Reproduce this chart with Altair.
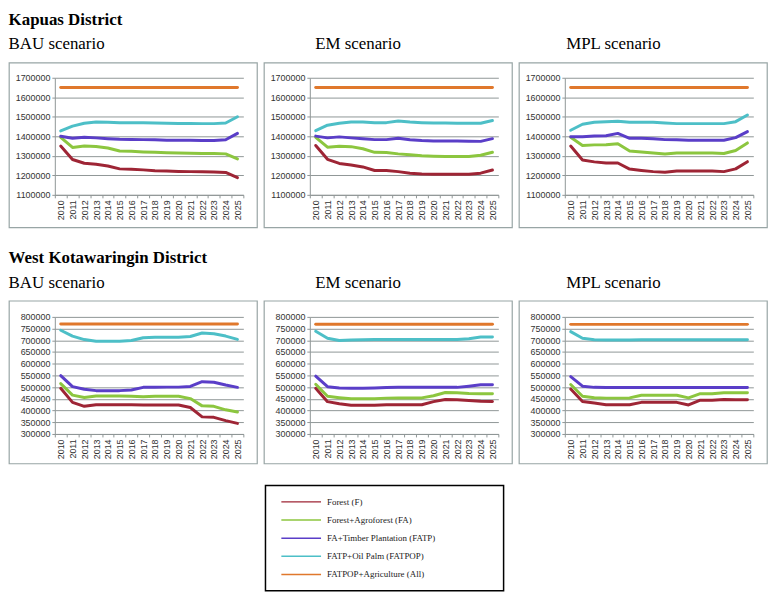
import altair as alt
import pandas as pd

years = list(range(2010, 2026))
series = ["Forest (F)", "Forest+Agroforest (FA)", "FA+Timber Plantation (FATP)",
          "FATP+Oil Palm (FATPOP)", "FATPOP+Agriculture (All)"]
colors = ["#9E2535", "#8CC63F", "#5A3EC8", "#4DBFC7", "#E0782C"]
scenarios = ["BAU scenario", "EM scenario", "MPL scenario"]
districts = ["Kapuas District", "West Kotawaringin District"]

# Kapuas District
kap_bau_f = [1350000, 1281000, 1262000, 1257000, 1248000, 1233000, 1231000, 1228000, 1224000, 1222000, 1220000, 1219000, 1218000, 1217000, 1215000, 1188000]
kap_bau_fa = [1395000, 1343000, 1350000, 1348000, 1340000, 1325000, 1323000, 1320000, 1318000, 1316000, 1315000, 1313000, 1312000, 1312000, 1310000, 1284000]
kap_bau_fatp = [1400000, 1390000, 1395000, 1392000, 1388000, 1385000, 1384000, 1383000, 1382000, 1380000, 1380000, 1380000, 1379000, 1379000, 1382000, 1415000]
kap_bau_fatpop = [1428000, 1452000, 1467000, 1473000, 1472000, 1470000, 1470000, 1469000, 1468000, 1467000, 1466000, 1466000, 1465000, 1465000, 1468000, 1500000]
kap_bau_all = [1650000, 1650000, 1650000, 1650000, 1650000, 1650000, 1650000, 1650000, 1650000, 1650000, 1650000, 1650000, 1650000, 1650000, 1650000, 1650000]

kap_em_f = [1353000, 1282000, 1261000, 1253000, 1243000, 1225000, 1225000, 1219000, 1211000, 1207000, 1206000, 1205000, 1205000, 1205000, 1211000, 1227000]
kap_em_fa = [1395000, 1344000, 1349000, 1347000, 1336000, 1318000, 1317000, 1310000, 1305000, 1300000, 1298000, 1297000, 1297000, 1297000, 1303000, 1318000]
kap_em_fatp = [1401000, 1392000, 1397000, 1392000, 1388000, 1383000, 1383000, 1390000, 1382000, 1378000, 1376000, 1376000, 1376000, 1375000, 1374000, 1388000]
kap_em_fatpop = [1429000, 1457000, 1467000, 1473000, 1473000, 1470000, 1470000, 1478000, 1473000, 1470000, 1468000, 1468000, 1467000, 1467000, 1467000, 1481000]
kap_em_all = [1650000, 1650000, 1650000, 1650000, 1650000, 1650000, 1650000, 1650000, 1650000, 1650000, 1650000, 1650000, 1650000, 1650000, 1650000, 1650000]

kap_mpl_f = [1350000, 1279000, 1269000, 1263000, 1263000, 1232000, 1225000, 1219000, 1216000, 1222000, 1222000, 1222000, 1222000, 1219000, 1233000, 1270000]
kap_mpl_fa = [1395000, 1353000, 1356000, 1357000, 1362000, 1325000, 1320000, 1314000, 1309000, 1314000, 1314000, 1314000, 1314000, 1312000, 1327000, 1366000]
kap_mpl_fatp = [1398000, 1398000, 1401000, 1403000, 1415000, 1390000, 1390000, 1388000, 1383000, 1382000, 1380000, 1380000, 1380000, 1380000, 1393000, 1424000]
kap_mpl_fatpop = [1431000, 1462000, 1472000, 1475000, 1477000, 1472000, 1472000, 1472000, 1468000, 1465000, 1465000, 1465000, 1465000, 1465000, 1475000, 1509000]
kap_mpl_all = [1650000, 1650000, 1650000, 1650000, 1650000, 1650000, 1650000, 1650000, 1650000, 1650000, 1650000, 1650000, 1650000, 1650000, 1650000, 1650000]

# West Kotawaringin District
wk_bau_f = [495000, 435000, 418000, 425000, 425000, 425000, 425000, 424000, 424000, 424000, 424000, 413000, 373000, 371000, 357000, 345000]
wk_bau_fa = [515000, 466000, 456000, 462000, 462000, 462000, 461000, 459000, 461000, 461000, 461000, 451000, 420000, 418000, 403000, 394000]
wk_bau_fatp = [549000, 502000, 491000, 485000, 485000, 485000, 488000, 499000, 499000, 500000, 500000, 503000, 523000, 521000, 509000, 499000]
wk_bau_fatpop = [743000, 718000, 703000, 696000, 696000, 696000, 699000, 711000, 713000, 713000, 713000, 716000, 731000, 728000, 718000, 704000]
wk_bau_all = [770000, 770000, 770000, 770000, 770000, 770000, 770000, 770000, 770000, 770000, 770000, 770000, 770000, 770000, 770000, 770000]

wk_em_f = [495000, 438000, 429000, 423000, 423000, 423000, 425000, 425000, 425000, 425000, 438000, 447000, 446000, 443000, 440000, 439000]
wk_em_fa = [512000, 461000, 455000, 450000, 450000, 450000, 453000, 454000, 454000, 454000, 463000, 477000, 476000, 473000, 472000, 472000]
wk_em_fatp = [547000, 502000, 496000, 495000, 495000, 496000, 498000, 499000, 499000, 499000, 499000, 499000, 499000, 504000, 510000, 510000]
wk_em_fatpop = [739000, 709000, 699000, 701000, 702000, 703000, 703000, 703000, 703000, 703000, 703000, 703000, 703000, 707000, 714000, 714000]
wk_em_all = [769000, 769000, 769000, 769000, 769000, 769000, 769000, 769000, 769000, 769000, 769000, 769000, 769000, 769000, 769000, 769000]

wk_mpl_f = [492000, 439000, 432000, 425000, 425000, 425000, 435000, 435000, 435000, 435000, 424000, 444000, 444000, 447000, 446000, 446000]
wk_mpl_fa = [511000, 461000, 455000, 453000, 453000, 454000, 465000, 465000, 465000, 465000, 454000, 472000, 472000, 476000, 476000, 476000]
wk_mpl_fatp = [545000, 504000, 499000, 498000, 498000, 498000, 498000, 498000, 498000, 498000, 498000, 498000, 498000, 498000, 498000, 498000]
wk_mpl_fatpop = [737000, 709000, 702000, 701000, 701000, 701000, 702000, 702000, 702000, 702000, 702000, 702000, 702000, 702000, 702000, 702000]
wk_mpl_all = [768000, 768000, 768000, 768000, 768000, 768000, 768000, 768000, 768000, 768000, 768000, 768000, 768000, 768000, 768000, 768000]

kap_ticks = [1100000, 1200000, 1300000, 1400000, 1500000, 1600000, 1700000]
wk_ticks = [300000, 350000, 400000, 450000, 500000, 550000, 600000, 650000, 700000, 750000, 800000]

table = {
    ("Kapuas District", "BAU scenario"): [kap_bau_f, kap_bau_fa, kap_bau_fatp, kap_bau_fatpop, kap_bau_all],
    ("Kapuas District", "EM scenario"): [kap_em_f, kap_em_fa, kap_em_fatp, kap_em_fatpop, kap_em_all],
    ("Kapuas District", "MPL scenario"): [kap_mpl_f, kap_mpl_fa, kap_mpl_fatp, kap_mpl_fatpop, kap_mpl_all],
    ("West Kotawaringin District", "BAU scenario"): [wk_bau_f, wk_bau_fa, wk_bau_fatp, wk_bau_fatpop, wk_bau_all],
    ("West Kotawaringin District", "EM scenario"): [wk_em_f, wk_em_fa, wk_em_fatp, wk_em_fatpop, wk_em_all],
    ("West Kotawaringin District", "MPL scenario"): [wk_mpl_f, wk_mpl_fa, wk_mpl_fatp, wk_mpl_fatpop, wk_mpl_all],
}

rows = []
for (d, s), lists in table.items():
    for si, vals in enumerate(lists):
        for y, v in zip(years, vals):
            rows.append({"district": d, "scenario": s, "series": series[si], "order": si, "year": y, "value": v})
df = pd.DataFrame(rows)

GRID = "#8f9696"
FRAME = "#98a5a5"
SANS = "Liberation Sans"
SERIF = "Liberation Serif"
FRAME_W = 250
GAP = 5
LEFT = 46
RIGHT = 14
PLOT_H = 118

color_scale = alt.Scale(domain=series, range=colors)
dummy = pd.DataFrame({"k": [0]})


def panel(district, scenario, ticks, H, top, bottom, title_dx):
    W = FRAME_W - LEFT - RIGHT
    data = df[(df.district == district) & (df.scenario == scenario)]
    frame = alt.Chart(dummy).mark_rect(filled=False, stroke=FRAME, strokeWidth=1.2).encode(
        x=alt.value(-LEFT), x2=alt.value(W + RIGHT), y=alt.value(-top), y2=alt.value(H + bottom)
    )
    lines = alt.Chart(data).mark_line(strokeWidth=3, strokeCap="round", strokeJoin="round").encode(
        x=alt.X("year:O", bandPosition=0.5,
                scale=alt.Scale(type="band", paddingInner=0, paddingOuter=0),
                axis=alt.Axis(title=None, labelAngle=270, tickBand="extent", tickSize=3,
                              tickColor=GRID, domainColor=GRID, labelFont=SANS, labelFontSize=9,
                              labelColor="#333333", labelPadding=2, grid=False)),
        y=alt.Y("value:Q", scale=alt.Scale(domain=[ticks[0], ticks[-1]], nice=False, zero=False),
                axis=alt.Axis(title=None, values=ticks, format="d", tickSize=3, tickColor=GRID,
                              domainColor=GRID, gridColor=GRID, gridWidth=1, labelFont=SANS,
                              labelFontSize=9, labelColor="#333333", labelPadding=2)),
        color=alt.Color("series:N", scale=color_scale, legend=None),
        order=alt.Order("order:Q"),
    )
    return alt.layer(frame, lines).properties(
        width=W, height=H,
        title=alt.TitleParams(scenario, anchor="start", dx=title_dx, font=SERIF, fontSize=17,
                              fontWeight="normal", color="#000000", offset=9),
    )


def district_row(district, ticks, H, top, bottom):
    dxs = [0, 52, 48]
    panels = [panel(district, s, ticks, H, top, bottom, dx) for s, dx in zip(scenarios, dxs)]
    return alt.hconcat(*panels, spacing=GAP).properties(
        title=alt.TitleParams(district, anchor="start", font=SERIF, fontSize=17, fontWeight="bold",
                              color="#000000", offset=7)
    )


row1 = district_row("Kapuas District", kap_ticks, PLOT_H, 15, 33)
row2 = district_row("West Kotawaringin District", wk_ticks, PLOT_H, 16, 30)

# legend box under the panels
leg_df = pd.DataFrame({"series": series})
LW, LH = 240, 106
ysc = alt.Y("series:N", sort=series, axis=None, scale=alt.Scale(type="point", padding=0.9))
box = alt.Chart(dummy).mark_rect(filled=False, stroke="#000000", strokeWidth=1.5).encode(
    x=alt.value(0), x2=alt.value(LW), y=alt.value(0), y2=alt.value(LH)
)
leg_lines = alt.Chart(leg_df).mark_rule(strokeWidth=1.5).encode(
    x=alt.value(16), x2=alt.value(56), y=ysc,
    color=alt.Color("series:N", scale=color_scale, legend=None),
)
leg_text = alt.Chart(leg_df).mark_text(align="left", baseline="middle", font=SERIF, fontSize=9,
                                       color="#222222").encode(
    x=alt.value(62), y=ysc, text="series:N"
)
legend = alt.layer(box, leg_lines, leg_text).properties(width=LW + 54, height=LH)

chart = alt.vconcat(row1, row2, legend, spacing=20, center=True).properties(
    padding={"left": 0, "top": 0, "right": 2, "bottom": 1},
    background="#ffffff",
).configure_view(strokeWidth=0)

chart.save("out.html", embed_options={"renderer": "svg", "actions": False})
